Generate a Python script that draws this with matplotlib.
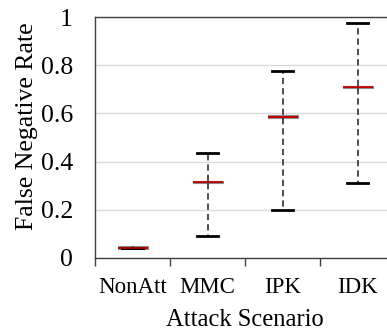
import matplotlib
matplotlib.use("Agg")
import matplotlib.pyplot as plt

categories = ["NonAtt", "MMC", "IPK", "IDK"]
medians = [0.042, 0.315, 0.587, 0.710]
whisker_low = [0.042, 0.089, 0.200, 0.311]
whisker_high = [0.042, 0.437, 0.777, 0.978]
yticks = [0, 0.2, 0.4, 0.6, 0.8, 1]
ytick_labels = ["0", "0.2", "0.4", "0.6", "0.8", "1"]

plt.rcParams["font.family"] = ["Liberation Serif", "DejaVu Serif"]

fig = plt.figure(figsize=(3.87, 3.32), dpi=100)
ax = fig.add_axes([95 / 387, 1 - 257.7 / 332, 300 / 387, 240.4 / 332])

half = 0.006
stats = []
for name, m, lo, hi in zip(categories, medians, whisker_low, whisker_high):
    stats.append(dict(label=name, med=m, q1=m - half, q3=m + half,
                      whislo=lo, whishi=hi, fliers=[]))

positions = list(range(1, len(categories) + 1))
ax.bxp(stats, positions=positions, widths=0.4, patch_artist=True,
       showfliers=False, zorder=3,
       boxprops=dict(facecolor="#c00000", edgecolor="#8c8c8c", linewidth=0.8),
       medianprops=dict(color="#c00000", linewidth=1.2),
       whiskerprops=dict(color="#404040", linewidth=1.3, linestyle=(0, (3.5, 2.2))),
       capprops=dict(color="#000000", linewidth=2.0),
       capwidths=0.27)

ax.set_xlim(0.5, len(categories) + 0.5)
ax.set_ylim(0, 1)
ax.set_yticks(yticks)
ax.set_yticklabels(ytick_labels)
ax.tick_params(axis="y", length=0, pad=16, labelsize=18.5)

ax.set_xticks([p + 0.5 for p in positions[:-1]] + [0.5])
ax.set_xticklabels([])
ax.tick_params(axis="x", which="major", length=6, width=1, color="#404040", direction="out")
ax.set_xticks(positions, minor=True)
ax.set_xticklabels(categories, minor=True)
ax.tick_params(axis="x", which="minor", length=0, pad=14, labelsize=16.5)

ax.grid(axis="y", color="#d9d9d9", linewidth=1)
ax.set_axisbelow(True)
for s in ax.spines.values():
    s.set_color("#404040")
    s.set_linewidth(1)

ax.set_ylabel("False Negative Rate", fontsize=18.5, labelpad=2)
ax.yaxis.label.set_y(0.545)
ax.set_xlabel("Attack Scenario", fontsize=17.7, labelpad=7.5)

fig.savefig("out.png", dpi=100)
